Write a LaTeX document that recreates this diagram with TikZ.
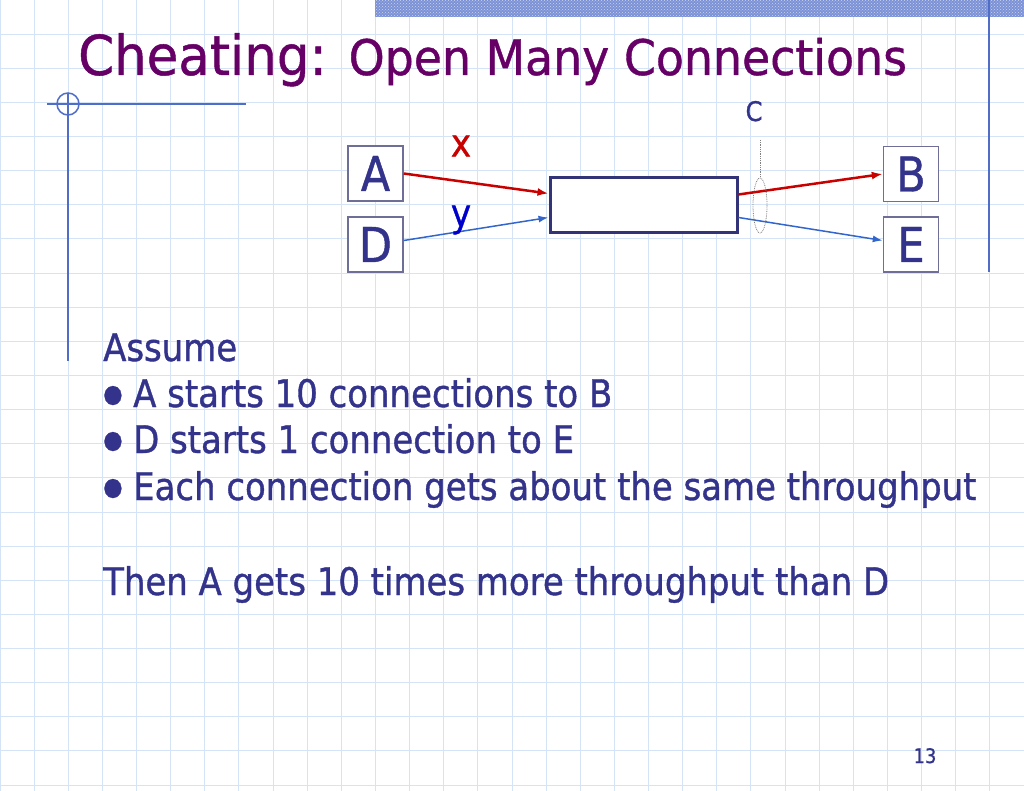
\documentclass[tikz,border=0pt]{standalone}
\usepackage{fontspec}
\setmainfont[FakeStretch=0.893, FakeBold=1]{DejaVu Sans}
\newfontfamily\titlefont[FakeStretch=0.935, FakeBold=0.8]{DejaVu Sans}
\usetikzlibrary{arrows.meta,patterns,shapes.geometric}
\definecolor{gridc}{RGB}{212,228,246}
\definecolor{titlec}{RGB}{102,0,102}
\definecolor{textc}{RGB}{51,51,140}
\definecolor{decoc}{RGB}{80,110,200}
\definecolor{boxc}{RGB}{110,110,150}
\definecolor{midc}{RGB}{51,51,120}
\definecolor{redc}{RGB}{200,0,0}
\definecolor{bluec}{RGB}{51,102,204}
\definecolor{ylab}{RGB}{0,0,204}
\newcommand{\bigbul}{\makebox[30pt][l]{\hspace*{0pt}\raisebox{5pt}{\fontsize{25}{25}\selectfont ●}}}
\tikzset{
  gridline/.style={draw=gridc, line width=1pt},
  deco/.style={draw=decoc, line width=1.5pt},
  letterbox/.style={draw=boxc, line width=1.5pt, fill=white, minimum width=55pt, minimum height=55pt, inner sep=0pt, text=textc, font=\fontsize{48}{50}\selectfont},
  midbox/.style={draw=midc, line width=3pt, fill=white, minimum width=187pt, minimum height=55pt, inner sep=0pt},
  redarrow/.style={draw=redc, line width=2.5pt, -{Latex[length=11pt,width=8pt]}},
  bluearrow/.style={draw=bluec, line width=1.5pt, -{Latex[length=10pt,width=7pt]}},
  bodytext/.style={anchor=base west, inner sep=0pt, text=textc, font=\fontsize{38}{40}\selectfont},
}
\begin{document}
\begin{tikzpicture}[x=1pt, y=-1pt]
\useasboundingbox (0,0) rectangle (1024,791);
\fill[white] (0,0) rectangle (1024,791);
% grid
\foreach \i in {0,...,30} \draw[gridline] ({\i*34.1333},0) -- ({\i*34.1333},791);
\foreach \j in {0,...,23} \draw[gridline] (0,{\j*34.1333}) -- (1024,{\j*34.1333});
% top band
\fill[decoc!75] (375,0) rectangle (1024,17);
\fill[pattern=crosshatch dots, pattern color=white!70!decoc] (375,0) rectangle (1024,17);
% decorative lines
\draw[deco] (47,104) -- (246,104);
\draw[deco] (68,104) circle[radius=11];
\draw[deco] (68,93) -- (68,361);
\draw[deco] (989,0) -- (989,272);
% title
\node[anchor=base west, inner sep=0pt, text=titlec, font=\titlefont] (title) at (78,75)
  {{\fontsize{55}{60}\selectfont Cheating: }{\fontsize{49}{55}\selectfont Open Many Connections}};
% diagram
\node[letterbox] (A) at (375.5,173.5) {A};
\node[letterbox] (D) at (375.5,244.5) {D};
\node[letterbox] (B) at (911,174) {B};
\node[letterbox] (E) at (911,244.5) {E};
\node[midbox] (M) at (643.5,205.5) {};
\draw[redarrow] (A.east) -- ([yshift=12pt]M.west);
\draw[bluearrow] ([yshift=4pt]D.east) -- ([yshift=-12pt]M.west);
\draw[redarrow] ([yshift=11pt]M.east) -- (B.west);
\draw[bluearrow] ([yshift=-12pt]M.east) -- ([yshift=4pt]E.west);
\node[text=redc, font=\fontsize{38}{40}\selectfont, inner sep=0pt] (xl) at (461,146) {x};
\node[text=ylab, font=\fontsize{38}{40}\selectfont, inner sep=0pt] (yl) at (461,220) {y};
\node[text=textc, font=\fontsize{27}{29}\selectfont, inner sep=0pt, anchor=base] (Cl) at (754,121) {C};
\node[draw=gray, densely dotted, line width=0.8pt, ellipse, minimum width=14pt, minimum height=55pt, inner sep=0pt] (ell) at (760,205.5) {};
\coordinate (ctop) at (760,140);
\draw[gray, densely dotted, line width=0.8pt] (ctop) -- (ell.north);
% body text
\node[bodytext] (t1) at (103,361) {Assume};
\node[bodytext] (t2) at (103,407) {\bigbul A starts 10 connections to B};
\node[bodytext] (t3) at (103,453) {\bigbul D starts 1 connection to E};
\node[bodytext] (t4) at (103,500) {\bigbul Each connection gets about the same throughput};
\node[bodytext] (t5) at (103,595) {Then A gets 10 times more throughput than D};
\node[anchor=base, inner sep=0pt, text=textc, font=\fontsize{20}{22}\selectfont] (pg) at (925,763) {13};
\end{tikzpicture}
\end{document}
